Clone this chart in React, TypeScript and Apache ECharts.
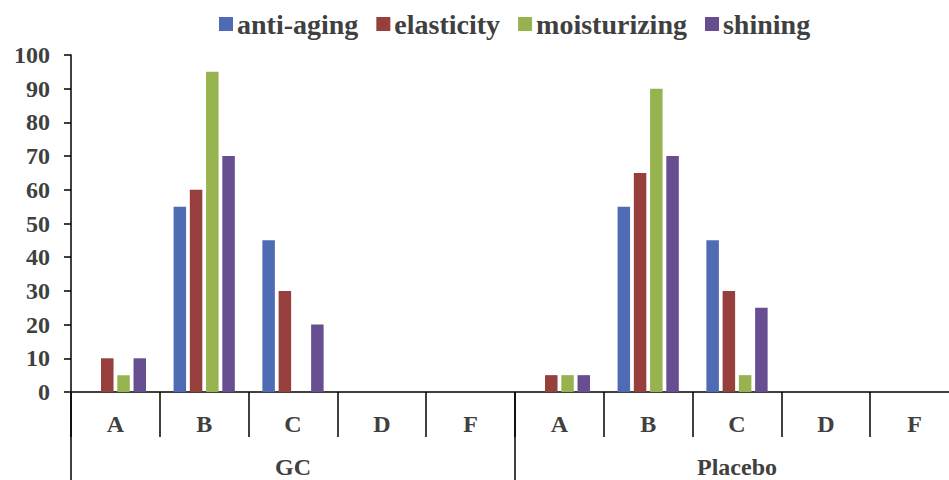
import React, { useEffect, useRef } from "react";
import * as echarts from "echarts";

const subCategories = ["A", "B", "C", "D", "F", "A", "B", "C", "D", "F"];
const groups = ["GC", "Placebo"];
const seriesNames = ["anti-aging", "elasticity", "moisturizing", "shining"];
const antiAging = [0, 55, 45, 0, 0, 0, 55, 45, 0, 0];
const elasticity = [10, 60, 30, 0, 0, 5, 65, 30, 0, 0];
const moisturizing = [5, 95, 0, 0, 0, 5, 90, 5, 0, 0];
const shining = [10, 70, 20, 0, 0, 5, 70, 25, 0, 0];
const yTicks = { min: 0, max: 100, interval: 10 };

const colors = ["#4F6BB3", "#963F3D", "#97B34F", "#674E90"];
const FONT = "Liberation Serif";
const TEXT = "#404040";

export default function App() {
  const ref = useRef<HTMLDivElement>(null);
  useEffect(() => {
    if (!ref.current) return;
    const chart = echarts.init(ref.current, undefined, { renderer: "svg" });
    const values = [antiAging, elasticity, moisturizing, shining];
    chart.setOption({
      animation: false,
      backgroundColor: "#ffffff",
      legend: {
        left: 214,
        top: 5,
        itemWidth: 14,
        itemHeight: 14,
        itemGap: 18,
        icon: "rect",
        textStyle: {
          fontFamily: FONT,
          fontWeight: "bold",
          fontSize: 28,
          color: TEXT,
          padding: [0, 0, 0, -1],
        },
        data: seriesNames,
      },
      grid: { left: 71, top: 55, width: 888, bottom: 88, containLabel: false },
      xAxis: [
        {
          type: "category",
          data: subCategories,
          position: "bottom",
          axisLine: { show: true, lineStyle: { color: "#000", width: 1.5 } },
          axisTick: {
            show: true,
            interval: 0,
            length: 45,
            lineStyle: { color: "#000", width: 1.5 },
          },
          axisLabel: {
            interval: 0,
            margin: 20,
            fontFamily: FONT,
            fontWeight: "bold",
            fontSize: 24,
            color: TEXT,
          },
        },
        {
          type: "category",
          data: groups,
          position: "bottom",
          axisLine: { show: false },
          axisTick: {
            show: true,
            interval: 0,
            length: 95,
            lineStyle: { color: "#000", width: 1.5 },
          },
          axisLabel: {
            interval: 0,
            margin: 63,
            fontFamily: FONT,
            fontWeight: "bold",
            fontSize: 24,
            color: TEXT,
          },
        },
      ],
      yAxis: {
        type: "value",
        min: yTicks.min,
        max: yTicks.max,
        interval: yTicks.interval,
        axisLine: { show: true, lineStyle: { color: "#000", width: 1.5 } },
        axisTick: { show: true, length: 7, lineStyle: { color: "#000", width: 1.5 } },
        splitLine: { show: false },
        axisLabel: {
          margin: 21,
          fontFamily: FONT,
          fontWeight: "bold",
          fontSize: 24,
          color: TEXT,
        },
      },
      series: seriesNames.map((name, i) => ({
        name,
        type: "bar",
        xAxisIndex: 0,
        barWidth: 12.5,
        barGap: "30%",
        itemStyle: { color: colors[i] },
        data: values[i].map((v) => (v === 0 ? "-" : v)),
      })),
    });
    return () => chart.dispose();
  }, []);
  return (
    <div
      style={{
        position: "absolute",
        left: 0,
        top: 0,
        width: 949,
        height: 480,
        overflow: "hidden",
      }}
    >
      <div ref={ref} style={{ width: 980, height: 480 }} />
    </div>
  );
}
